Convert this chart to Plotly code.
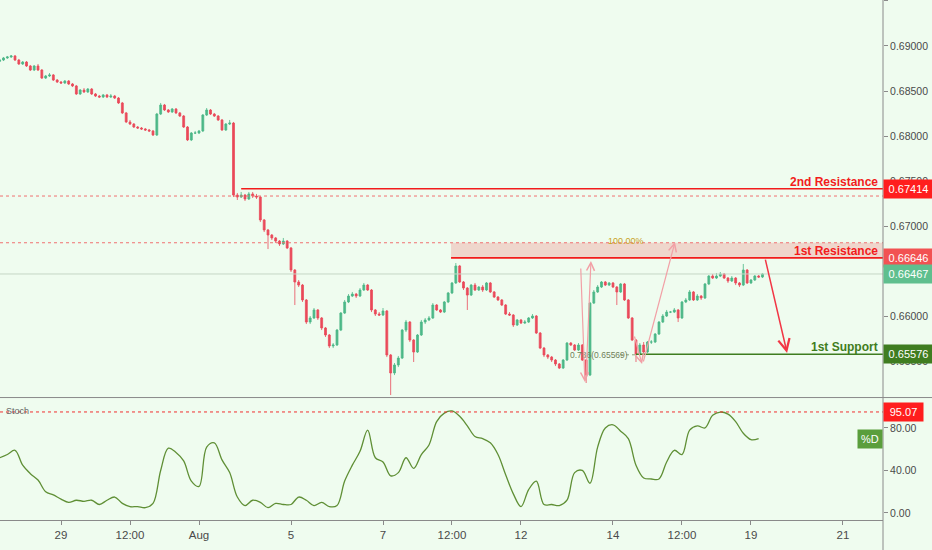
import pandas as pd
import plotly.graph_objects as go
from plotly.subplots import make_subplots

# 2h candles (open = previous close)
first_open = 0.68830
closes = [
    0.68844, 0.68867, 0.68878, 0.68889, 0.68844, 0.68800, 0.68822, 0.68778, 0.68733, 0.68778,
    0.68733, 0.68644, 0.68667, 0.68678, 0.68622, 0.68600, 0.68589, 0.68611, 0.68578, 0.68556,
    0.68467, 0.68511, 0.68489, 0.68522, 0.68467, 0.68444, 0.68433, 0.68456, 0.68433, 0.68444,
    0.68422, 0.68367, 0.68256, 0.68156, 0.68133, 0.68100, 0.68089, 0.68078, 0.68067, 0.68056,
    0.68011, 0.68244, 0.68344, 0.68289, 0.68267, 0.68300, 0.68256, 0.68222, 0.68100, 0.67956,
    0.68033, 0.68033, 0.68056, 0.68233, 0.68289, 0.68244, 0.68222, 0.68178, 0.68067, 0.68133,
    0.68144, 0.67344, 0.67322, 0.67344, 0.67300, 0.67356, 0.67333, 0.67322, 0.67067, 0.66956,
    0.66900, 0.66867, 0.66833, 0.66800, 0.66833, 0.66756, 0.66511, 0.66378, 0.66344, 0.66178,
    0.65933, 0.65978, 0.66067, 0.65978, 0.65867, 0.65789, 0.65667, 0.65678, 0.65844, 0.66033,
    0.66156, 0.66222, 0.66244, 0.66222, 0.66289, 0.66344, 0.66289, 0.66067, 0.66022, 0.66011,
    0.66056, 0.65567, 0.65367, 0.65456, 0.65533, 0.65844, 0.65933, 0.65733, 0.65600, 0.65789,
    0.65933, 0.65956, 0.65978, 0.66122, 0.66067, 0.66044, 0.66156, 0.66256, 0.66367, 0.66556,
    0.66378, 0.66311, 0.66233, 0.66344, 0.66289, 0.66322, 0.66289, 0.66367, 0.66267, 0.66211,
    0.66178, 0.66122, 0.66022, 0.66011, 0.65900, 0.65956, 0.65922, 0.65933, 0.65978, 0.66000,
    0.65811, 0.65644, 0.65567, 0.65544, 0.65511, 0.65467, 0.65422, 0.65511, 0.65700, 0.65678,
    0.65622, 0.65678, 0.65511, 0.65344, 0.66144, 0.66267, 0.66322, 0.66378, 0.66344, 0.66367,
    0.66322, 0.66267, 0.66356, 0.66178, 0.65978, 0.65733, 0.65578, 0.65678, 0.65600, 0.65711,
    0.65711, 0.65800, 0.65933, 0.66000, 0.66044, 0.66044, 0.66067, 0.65978, 0.66156, 0.66178,
    0.66267, 0.66178, 0.66222, 0.66200, 0.66356, 0.66444, 0.66422, 0.66444, 0.66467, 0.66422,
    0.66389, 0.66422, 0.66367, 0.66344, 0.66511, 0.66367, 0.66400, 0.66444, 0.66433, 0.66467,
]
highs = [
    0.68856, 0.68878, 0.68889, 0.68900, 0.68900, 0.68856, 0.68833, 0.68833, 0.68789, 0.68789,
    0.68800, 0.68744, 0.68678, 0.68700, 0.68689, 0.68633, 0.68611, 0.68622, 0.68622, 0.68589,
    0.68567, 0.68522, 0.68533, 0.68533, 0.68533, 0.68478, 0.68456, 0.68467, 0.68467, 0.68467,
    0.68456, 0.68433, 0.68378, 0.68267, 0.68178, 0.68144, 0.68111, 0.68100, 0.68089, 0.68078,
    0.68067, 0.68256, 0.68367, 0.68356, 0.68300, 0.68311, 0.68311, 0.68267, 0.68233, 0.68111,
    0.68044, 0.68056, 0.68067, 0.68244, 0.68311, 0.68300, 0.68256, 0.68233, 0.68189, 0.68144,
    0.68178, 0.68156, 0.67367, 0.67378, 0.67356, 0.67378, 0.67378, 0.67356, 0.67333, 0.67078,
    0.66967, 0.66911, 0.66878, 0.66844, 0.66867, 0.66844, 0.66767, 0.66522, 0.66400, 0.66356,
    0.66189, 0.66000, 0.66089, 0.66078, 0.65989, 0.65878, 0.65800, 0.65700, 0.65856, 0.66044,
    0.66178, 0.66244, 0.66267, 0.66256, 0.66311, 0.66367, 0.66356, 0.66300, 0.66078, 0.66044,
    0.66089, 0.66067, 0.65578, 0.65478, 0.65556, 0.65856, 0.65956, 0.65944, 0.65744, 0.65800,
    0.65956, 0.65978, 0.66000, 0.66144, 0.66133, 0.66078, 0.66167, 0.66267, 0.66378, 0.66589,
    0.66567, 0.66389, 0.66322, 0.66356, 0.66367, 0.66333, 0.66344, 0.66378, 0.66378, 0.66278,
    0.66222, 0.66189, 0.66133, 0.66044, 0.66022, 0.65967, 0.65967, 0.65956, 0.65989, 0.66022,
    0.66011, 0.65822, 0.65656, 0.65578, 0.65556, 0.65522, 0.65478, 0.65522, 0.65711, 0.65711,
    0.65689, 0.65700, 0.65689, 0.65522, 0.66156, 0.66289, 0.66344, 0.66389, 0.66389, 0.66378,
    0.66378, 0.66333, 0.66367, 0.66367, 0.66189, 0.65989, 0.65744, 0.65700, 0.65711, 0.65722,
    0.65733, 0.65811, 0.65944, 0.66022, 0.66067, 0.66056, 0.66089, 0.66078, 0.66167, 0.66200,
    0.66289, 0.66278, 0.66244, 0.66233, 0.66367, 0.66456, 0.66467, 0.66478, 0.66489, 0.66478,
    0.66433, 0.66444, 0.66433, 0.66378, 0.66578, 0.66522, 0.66411, 0.66456, 0.66456, 0.66478,
]
lows = [
    0.68822, 0.68833, 0.68856, 0.68867, 0.68833, 0.68789, 0.68789, 0.68767, 0.68722, 0.68722,
    0.68722, 0.68633, 0.68633, 0.68656, 0.68611, 0.68589, 0.68578, 0.68578, 0.68567, 0.68544,
    0.68456, 0.68456, 0.68478, 0.68478, 0.68456, 0.68433, 0.68422, 0.68422, 0.68422, 0.68422,
    0.68411, 0.68356, 0.68244, 0.68144, 0.68122, 0.68089, 0.68078, 0.68067, 0.68056, 0.68044,
    0.68000, 0.68000, 0.68233, 0.68278, 0.68256, 0.68256, 0.68244, 0.68211, 0.68089, 0.67944,
    0.67944, 0.68022, 0.68022, 0.68044, 0.68222, 0.68233, 0.68211, 0.68167, 0.68056, 0.68056,
    0.68122, 0.67322, 0.67289, 0.67311, 0.67278, 0.67289, 0.67311, 0.67300, 0.67044, 0.66933,
    0.66744, 0.66844, 0.66811, 0.66778, 0.66789, 0.66744, 0.66489, 0.66122, 0.66322, 0.66156,
    0.65911, 0.65911, 0.65967, 0.65956, 0.65844, 0.65767, 0.65644, 0.65644, 0.65667, 0.65833,
    0.66022, 0.66144, 0.66211, 0.66200, 0.66211, 0.66278, 0.66278, 0.66044, 0.66000, 0.66000,
    0.66000, 0.65544, 0.65122, 0.65344, 0.65433, 0.65522, 0.65822, 0.65711, 0.65489, 0.65589,
    0.65778, 0.65911, 0.65944, 0.65967, 0.66056, 0.66033, 0.66033, 0.66144, 0.66244, 0.66356,
    0.66367, 0.66289, 0.66067, 0.66222, 0.66278, 0.66278, 0.66267, 0.66278, 0.66256, 0.66200,
    0.66167, 0.66111, 0.66011, 0.66000, 0.65878, 0.65889, 0.65911, 0.65911, 0.65922, 0.65967,
    0.65800, 0.65633, 0.65544, 0.65522, 0.65489, 0.65444, 0.65411, 0.65411, 0.65500, 0.65667,
    0.65611, 0.65611, 0.65500, 0.65256, 0.65333, 0.66133, 0.66256, 0.66311, 0.66333, 0.66333,
    0.66311, 0.66122, 0.66256, 0.66167, 0.65967, 0.65722, 0.65489, 0.65567, 0.65589, 0.65589,
    0.65689, 0.65700, 0.65789, 0.65922, 0.65989, 0.66033, 0.66033, 0.65933, 0.65967, 0.66144,
    0.66167, 0.66167, 0.66167, 0.66178, 0.66189, 0.66344, 0.66411, 0.66411, 0.66433, 0.66411,
    0.66367, 0.66378, 0.66344, 0.66322, 0.66333, 0.66356, 0.66356, 0.66389, 0.66422, 0.66422,
]

# stochastic %D, one value per 4h
stoch_d = [
    52, 55, 59, 45, 37, 31, 20, 17, 13, 10,
    12, 11, 12, 8, 12, 15, 9, 6, 6, 5,
    9, 40, 61, 57, 49, 30, 25, 62, 66, 50,
    38, 15, 7, 12, 10, 5, 9, 8, 8, 15,
    12, 7, 10, 6, 7, 30, 45, 58, 78, 52,
    48, 35, 38, 52, 42, 55, 64, 86, 94, 96,
    91, 82, 72, 70, 66, 55, 36, 18, 6, 22,
    30, 8, 8, 7, 12, 38, 40, 28, 62, 80,
    83, 77, 70, 45, 33, 32, 32, 48, 59, 55,
    78, 82, 80, 92, 95, 93, 86, 75, 69, 70,
]

# levels
res2 = 0.67414
res1 = 0.66646
last_price = 0.66467
support1 = 0.65576
fib_100 = 0.66814
fib_786 = 0.65569
dotted_level = 0.67333
stoch_mark = 95.07

tick_dates = ["2019-07-29", "2019-07-30 12:00", "2019-08-01", "2019-08-05", "2019-08-07",
              "2019-08-08 12:00", "2019-08-12", "2019-08-14", "2019-08-15 12:00",
              "2019-08-19", "2019-08-21"]
tick_text = ["29", "12:00", "Aug", "5", "7", "12:00", "12", "14", "12:00", "19", "21"]

x_start = "2019-07-25 16:10"
x_end = "2019-08-21 20:53"

UP = "#4cb888"
DN = "#ea4a5a"
RED = "#f21c1c"
GREEN_DK = "#3f7d20"
PINK = "#f2a0a6"
AXIS = "#8a8a8a"
BG = "#effcef"
FONT = "Liberation Sans"

times = pd.date_range("2019-07-25 16:00", "2019-08-20 00:00", freq="2h")
times = times[times.dayofweek < 5][:len(closes)]
opens = [first_open] + closes[:-1]

fig = make_subplots(rows=2, cols=1, shared_xaxes=True, vertical_spacing=0.002)

fig.add_trace(go.Candlestick(
    x=times, open=opens, high=highs, low=lows, close=closes,
    increasing=dict(line=dict(color=UP, width=0.8), fillcolor=UP),
    decreasing=dict(line=dict(color=DN, width=0.8), fillcolor=DN),
    whiskerwidth=0, hoverinfo="skip"), row=1, col=1)

fig.add_trace(go.Scatter(
    x=times[::2], y=stoch_d, mode="lines",
    line=dict(color="#5f8f35", width=1.3, shape="spline", smoothing=1),
    hoverinfo="skip"), row=2, col=1)

shapes = []


def hline(y, color, width=1, dash="solid", x0=None, yref="y"):
    if x0 is None:
        shapes.append(dict(type="line", xref="paper", x0=0, x1=1, yref=yref, y0=y, y1=y,
                           line=dict(color=color, width=width, dash=dash)))
    else:
        shapes.append(dict(type="line", xref="x", x0=x0, x1=x_end, yref=yref, y0=y, y1=y,
                           line=dict(color=color, width=width, dash=dash)))


# resistance zone
shapes.append(dict(type="rect", xref="x", x0="2019-08-08 11:30", x1=x_end, yref="y",
                   y0=res1, y1=fib_100, fillcolor="rgba(242,80,80,0.22)", line_width=0))
hline(dotted_level, "#f07070", 1, "dot")
hline(fib_100, "#f07070", 1, "dot")
hline(last_price, "#c6d6c6", 1)
hline(res2, RED, 1.6, x0="2019-08-01 22:00")
hline(res1, RED, 1.6, x0="2019-08-08 11:30")
hline(support1, GREEN_DK, 1.6, x0="2019-08-14 12:00")
shapes.append(dict(type="line", xref="x", x0="2019-08-14 03:40", x1="2019-08-14 12:00",
                   yref="y", y0=fib_786, y1=fib_786, line=dict(color="#8fa07a", width=1, dash="dot")))
hline(stoch_mark, "#f03030", 1, "dot", yref="y2")

# pane frame lines
shapes.append(dict(type="line", xref="paper", x0=0, x1=1.056, yref="paper", y0=0.2355, y1=0.2355,
                   line=dict(color=AXIS, width=1)))
shapes.append(dict(type="line", xref="paper", x0=1, x1=1, yref="paper", y0=-0.06, y1=1,
                   line=dict(color=AXIS, width=1)))

annotations = []


def box(y, text, bg, yref="y", width=43):
    annotations.append(dict(xref="paper", x=1, xanchor="left", yref=yref, y=y, yanchor="middle",
                            text=text, showarrow=False, bgcolor=bg, borderpad=3, width=width,
                            font=dict(color="white", size=11, family=FONT)))


def level_text(y, text, color):
    annotations.append(dict(xref="paper", x=1, xanchor="right", xshift=-3, yref="y", y=y,
                            yanchor="bottom", yshift=-2, text="<b>%s</b>" % text, showarrow=False,
                            font=dict(color=color, size=12, family=FONT)))


def arrow(x0, y0, x1, y1, color, width=1.2, size=1.3):
    annotations.append(dict(xref="x", yref="y", x=x1, y=y1, axref="x", ayref="y", ax=x0, ay=y0,
                            text="", showarrow=True, arrowhead=5, arrowsize=size,
                            arrowwidth=width, arrowcolor=color, standoff=0, startstandoff=0))


level_text(res2, "2nd Resistance", RED)
level_text(res1, "1st Resistance", RED)
level_text(support1, "1st Support", GREEN_DK)

box(res2, "%.5f" % res2, "#ff1e1e")
box(res1, "%.5f" % res1, "#f25252")
box(last_price, "%.5f" % last_price, "#5fbf8e")
box(support1, "%.5f" % support1, GREEN_DK)
box(stoch_mark, "%.2f" % stoch_mark, "#ff1e1e", yref="y2", width=33)
annotations.append(dict(xref="paper", x=1, xanchor="right", yref="y2", y=stoch_d[-1],
                        yanchor="middle", text="%D", showarrow=False, bgcolor="#5a9e3c",
                        borderpad=3, font=dict(color="white", size=11, family=FONT)))

annotations.append(dict(xref="paper", x=0.005, xanchor="left", yref="y2 domain", y=0.89,
                        yanchor="middle", text="Stoch", showarrow=False,
                        font=dict(color="#666666", size=9, family=FONT)))
annotations.append(dict(xref="x", x="2019-08-13 20:20", xanchor="left", yref="y", y=fib_100,
                        yanchor="middle", yshift=2, text="100.00%", showarrow=False,
                        font=dict(color="#c9a227", size=9, family=FONT)))
annotations.append(dict(xref="x", x="2019-08-13 00:30", xanchor="left", yref="y", y=fib_786,
                        yanchor="middle", text="0.786(0.65569)", showarrow=False,
                        font=dict(color="#6f7f5a", size=8.5, family=FONT)))

# pattern arrows
arrow("2019-08-13 07:10", 0.66544, "2019-08-13 09:20", 0.65267, PINK)
arrow("2019-08-13 09:50", 0.65267, "2019-08-13 12:30", 0.66611, PINK)
arrow("2019-08-14 11:00", 0.65789, "2019-08-14 15:10", 0.65467, PINK)
arrow("2019-08-14 15:40", 0.65478, "2019-08-15 08:20", 0.66822, PINK)
arrow("2019-08-19 07:20", 0.66644, "2019-08-19 18:50", 0.65590, "#f23645", 1.5, 1.5)

fig.update_layout(
    width=932, height=550,
    margin=dict(l=0, r=49, t=0, b=30),
    paper_bgcolor=BG, plot_bgcolor=BG,
    showlegend=False, hovermode=False,
    font=dict(family=FONT, size=11, color="#4a4a4a"),
    shapes=shapes, annotations=annotations,
)

fig.update_xaxes(range=[x_start, x_end], rangebreaks=[dict(bounds=["sat", "mon"])],
                 showgrid=False, zeroline=False, rangeslider_visible=False)
fig.update_xaxes(showticklabels=False, ticks="", row=1, col=1)
fig.update_xaxes(tickvals=tick_dates, ticktext=tick_text, ticks="outside", ticklen=4,
                 tickcolor=AXIS, showline=True, linecolor=AXIS,
                 tickfont=dict(size=11.5, color="#4a4a4a"), row=2, col=1)

fig.update_layout(
    yaxis=dict(domain=[0.2365, 1], side="right", range=[0.65100, 0.69511], dtick=0.005,
               tick0=0.65, tickformat=".5f", ticks="outside", ticklen=4, tickcolor=AXIS,
               showgrid=False, zeroline=False, tickfont=dict(size=10.5, color="#4a4a4a")),
    yaxis2=dict(domain=[0, 0.2346], side="right", range=[-6.6, 108.2], tickvals=[0, 40, 80],
                tickformat=".2f", ticks="outside", ticklen=4, tickcolor=AXIS,
                showgrid=False, zeroline=False, tickfont=dict(size=10.5, color="#4a4a4a")),
)

# the page body has a default 8px margin; drop it so the figure sits at the window corner
fig.write_html("out.html", config={"displayModeBar": False},
               post_script="document.body.style.margin='0px';")
